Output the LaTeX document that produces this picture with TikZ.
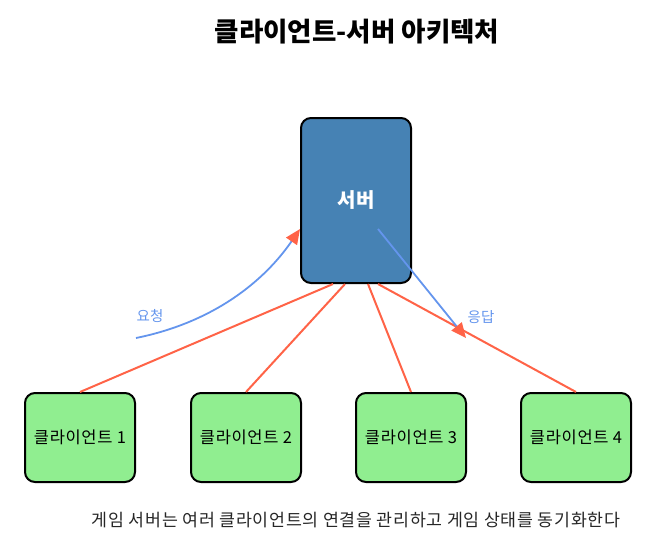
\documentclass[tikz,border=0pt]{standalone}
\usepackage{fontspec}
\setmainfont{Noto Sans CJK KR}
\newfontfamily\spaced[LetterSpace=4]{Noto Sans CJK KR}
\usetikzlibrary{arrows.meta,calc}
\definecolor{srvblue}{HTML}{4682B4}
\definecolor{cligreen}{HTML}{90EE90}
\definecolor{tomato}{HTML}{FF6347}
\definecolor{cblue}{HTML}{6495ED}
\tikzset{
  server/.style={draw=black, line width=2pt, fill=srvblue, rounded corners=10pt,
    minimum width=110pt, minimum height=165pt, inner sep=0pt,
    text=white, font=\fontsize{20}{24}\selectfont\bfseries},
  client/.style={draw=black, line width=2pt, fill=cligreen, rounded corners=10pt,
    minimum width=110pt, minimum height=89pt, inner sep=0pt,
    font=\spaced\fontsize{16.5}{20}\selectfont},
  link/.style={draw=tomato, line width=2pt},
  msg/.style={draw=cblue, line width=1.8pt,
    -{Triangle[color=tomato,length=15pt,width=13pt]}},
  msglabel/.style={text=cblue, font=\fontsize{14.5}{17}\selectfont}
}
\begin{document}
\begin{tikzpicture}[x=1pt,y=-1pt]
\useasboundingbox (0,0) rectangle (668,549);
\node[font=\fontsize{26.5}{31}\selectfont\bfseries] (title) at (357,32) {클라이언트-서버 아키텍처};
\node[server] (srv) at (356,200.5) {서버};
\node[client] (c1) at (80,437.5) {클라이언트 1};
\node[client] (c2) at (246,437.5) {클라이언트 2};
\node[client] (c3) at (411,437.5) {클라이언트 3};
\node[client] (c4) at (576,437.5) {클라이언트 4};
\coordinate (s1) at ($(srv.south)+(-23,0)$);
\coordinate (s2) at ($(srv.south)+(-11,0)$);
\coordinate (s3) at ($(srv.south)+(12,0)$);
\coordinate (s4) at ($(srv.south)+(22,0)$);
\draw[link] (s1) -- (c1.north);
\draw[link] (s2) -- (c2.north);
\draw[link] (s3) -- (c3.north);
\draw[link] (s4) -- (c4.north);
\coordinate (reqstart) at (136,338);
\coordinate (respend) at (466,338);
\coordinate (respstart) at (378,229);
\draw[msg] (reqstart) .. controls (215,322) and (265,280) .. (srv.west |- 0,229);
\draw[msg] (respstart) -- (respend);
\node[msglabel] (req) at (150,316) {요청};
\node[msglabel] (resp) at (481,317) {응답};
\node[font=\spaced\fontsize{17.3}{21}\selectfont, text=black!85] (cap) at (356,520) {게임 서버는 여러 클라이언트의 연결을 관리하고 게임 상태를 동기화한다};
\end{tikzpicture}
\end{document}
